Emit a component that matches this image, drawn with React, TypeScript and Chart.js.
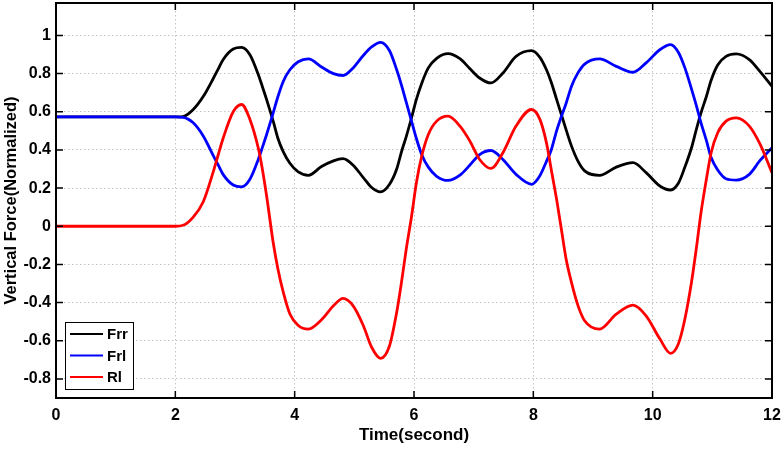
import Chart from 'chart.js/auto';
import { useEffect, useRef } from 'react';

// time samples (s), shared by all three series
const times = [
  0, 1, 2, 2.13, 2.3, 2.47, 2.64, 2.72, 2.8, 2.97, 3.11, 3.25, 3.39, 3.45, 3.53, 3.64,
  3.72, 3.81, 3.92, 4.06, 4.23, 4.45, 4.65, 4.81, 4.98, 5.15, 5.29, 5.44, 5.59, 5.71,
  5.79, 5.87, 5.96, 6.04, 6.13, 6.24, 6.38, 6.57, 6.77, 6.93, 7.1, 7.29, 7.49, 7.71,
  7.97, 8.11, 8.22, 8.3, 8.39, 8.47, 8.55, 8.64, 8.75, 8.86, 9.11, 9.39, 9.67, 9.89,
  10.12, 10.3, 10.43, 10.54, 10.65, 10.73, 10.81, 10.9, 10.98, 11.09, 11.23, 11.4,
  11.62, 11.8, 12,
];
const frr = [
  0.573, 0.573, 0.573, 0.575, 0.612, 0.681, 0.777, 0.825, 0.873, 0.929, 0.937, 0.899,
  0.795, 0.74, 0.664, 0.551, 0.46, 0.39, 0.33, 0.285, 0.267, 0.313, 0.343, 0.354, 0.32,
  0.255, 0.203, 0.18, 0.22, 0.3, 0.39, 0.47, 0.57, 0.665, 0.75, 0.83, 0.88, 0.905,
  0.878, 0.828, 0.777, 0.751, 0.803, 0.89, 0.92, 0.885, 0.82, 0.755, 0.665, 0.585,
  0.505, 0.42, 0.34, 0.29, 0.267, 0.31, 0.333, 0.281, 0.211, 0.19, 0.225, 0.31, 0.41,
  0.505, 0.594, 0.68, 0.765, 0.845, 0.89, 0.903, 0.873, 0.81, 0.733,
];
const frl = [
  0.573, 0.573, 0.573, 0.571, 0.542, 0.472, 0.368, 0.32, 0.272, 0.216, 0.206, 0.246,
  0.35, 0.405, 0.481, 0.594, 0.68, 0.76, 0.82, 0.862, 0.877, 0.835, 0.8, 0.79, 0.83,
  0.895, 0.94, 0.964, 0.92, 0.82, 0.74, 0.65, 0.55, 0.46, 0.375, 0.31, 0.262, 0.24,
  0.268, 0.318, 0.376, 0.397, 0.35, 0.272, 0.22, 0.265, 0.34, 0.4, 0.5, 0.575, 0.645,
  0.734, 0.805, 0.85, 0.877, 0.838, 0.807, 0.856, 0.925, 0.952, 0.912, 0.83, 0.72,
  0.635, 0.542, 0.45, 0.36, 0.295, 0.249, 0.242, 0.272, 0.345, 0.411,
];
const rl = [
  0, 0, 0, 0.005, 0.048, 0.13, 0.29, 0.376, 0.46, 0.6, 0.638, 0.56, 0.41, 0.315, 0.159,
  -0.085, -0.225, -0.347, -0.46, -0.52, -0.539, -0.49, -0.417, -0.378, -0.417, -0.52,
  -0.634, -0.692, -0.626, -0.451, -0.294, -0.12, 0.054, 0.228, 0.368, 0.481, 0.551,
  0.577, 0.525, 0.45, 0.35, 0.303, 0.385, 0.525, 0.612, 0.56, 0.437, 0.298, 0.141,
  -0.016, -0.173, -0.295, -0.417, -0.495, -0.539, -0.46, -0.413, -0.469, -0.59, -0.666,
  -0.617, -0.486, -0.295, -0.12, 0.071, 0.246, 0.385, 0.49, 0.551, 0.568, 0.525, 0.43,
  0.28,
];
const seriesLabels = ['Frr', 'Frl', 'Rl'];
const seriesColors = ['#000000', '#0000ff', '#ff0000'];
const xTicks = [0, 2, 4, 6, 8, 10, 12];
const yTicks = [-0.8, -0.6, -0.4, -0.2, 0, 0.2, 0.4, 0.6, 0.8, 1];

const FONT = 'Liberation Sans, Arial, Helvetica, sans-serif';

// box, inward ticks and in-plot legend, drawn like the matlab figure
const framePlugin = {
  id: 'frame',
  afterDatasetsDraw(chart: any) {
    const { ctx, chartArea: a, scales } = chart;
    const tl = 7;
    ctx.save();
    ctx.strokeStyle = '#000';
    ctx.lineWidth = 1.5;
    ctx.beginPath();
    for (const v of xTicks) {
      const px = scales.x.getPixelForValue(v);
      ctx.moveTo(px, a.bottom);
      ctx.lineTo(px, a.bottom - tl);
      ctx.moveTo(px, a.top);
      ctx.lineTo(px, a.top + tl);
    }
    for (const v of yTicks) {
      const py = scales.y.getPixelForValue(v);
      ctx.moveTo(a.left, py);
      ctx.lineTo(a.left + tl, py);
      ctx.moveTo(a.right, py);
      ctx.lineTo(a.right - tl, py);
    }
    ctx.stroke();
    ctx.lineWidth = 2;
    ctx.strokeRect(a.left, a.top, a.right - a.left, a.bottom - a.top);

    // legend
    const bx = a.left + 9;
    const by = a.bottom - 76;
    ctx.fillStyle = '#fff';
    ctx.fillRect(bx, by, 68, 67);
    ctx.lineWidth = 1;
    ctx.strokeStyle = '#000';
    ctx.strokeRect(bx + 0.5, by + 0.5, 68, 67);
    ctx.font = `bold 15px ${FONT}`;
    ctx.textBaseline = 'middle';
    chart.data.datasets.forEach((ds: any, i: number) => {
      const y = by + 12 + i * 21.5;
      ctx.strokeStyle = ds.borderColor;
      ctx.lineWidth = 2;
      ctx.beginPath();
      ctx.moveTo(bx + 5, y);
      ctx.lineTo(bx + 38, y);
      ctx.stroke();
      ctx.fillStyle = '#000';
      ctx.fillText(ds.label, bx + 42, y + 1);
    });
    ctx.restore();
  },
};

export default function App() {
  const chartRef = useRef<HTMLCanvasElement | null>(null);

  useEffect(() => {
    if (!chartRef.current) return;
    const datasets = [frr, frl, rl].map((vals, i) => ({
      label: seriesLabels[i],
      data: times.map((t, j) => ({ x: t, y: vals[j] })),
      borderColor: seriesColors[i],
      backgroundColor: seriesColors[i],
      borderWidth: 2.8,
      pointRadius: 0,
      cubicInterpolationMode: 'monotone' as const,
      order: 3 - i,
    }));
    const grid = {
      color: '#c4c4c4',
      lineWidth: 1,
      drawTicks: false,
    };
    const border = { display: false, dash: [1.5, 2.5] };
    const chart = new Chart(chartRef.current, {
      type: 'line',
      data: { datasets },
      plugins: [framePlugin],
      options: {
        animation: false,
        responsive: true,
        maintainAspectRatio: false,
        layout: { padding: { top: 3, right: 10, left: 0, bottom: 0 } },
        plugins: { legend: { display: false }, tooltip: { enabled: false } },
        scales: {
          x: {
            type: 'linear',
            min: 0,
            max: 12,
            border,
            grid,
            afterBuildTicks: (s: any) => {
              s.ticks = xTicks.map((v) => ({ value: v }));
            },
            afterFit: (s: any) => {
              s.height = 51;
              s.paddingLeft = 0;
              s.paddingRight = 0;
            },
            ticks: {
              color: '#000',
              padding: 8,
              maxRotation: 0,
              font: { family: FONT, size: 16, weight: 'bold' },
              callback: (v: any) => String(v),
            },
            title: {
              display: true,
              text: 'Time(second)',
              color: '#000',
              padding: { top: 0, bottom: 3 },
              font: { family: FONT, size: 17, weight: 'bold' },
            },
          },
          y: {
            type: 'linear',
            min: -0.9,
            max: 1.17,
            border,
            grid,
            afterBuildTicks: (s: any) => {
              s.ticks = yTicks.map((v) => ({ value: v }));
            },
            afterFit: (s: any) => {
              s.width = 56;
              s.paddingTop = 0;
              s.paddingBottom = 0;
            },
            ticks: {
              color: '#000',
              padding: 5,
              font: { family: FONT, size: 16, weight: 'bold' },
              callback: (v: any) => String(Math.round(Number(v) * 10) / 10),
            },
            title: {
              display: true,
              text: 'Vertical Force(Normalized)',
              color: '#000',
              padding: { top: 2, bottom: 0 },
              font: { family: FONT, size: 16.5, weight: 'bold' },
            },
          },
        },
      },
    });
    return () => chart.destroy();
  }, []);

  return (
    <div style={{ position: 'fixed', left: 0, top: 0, width: 782, height: 449, background: '#fff' }}>
      <canvas ref={chartRef}></canvas>
    </div>
  );
}
